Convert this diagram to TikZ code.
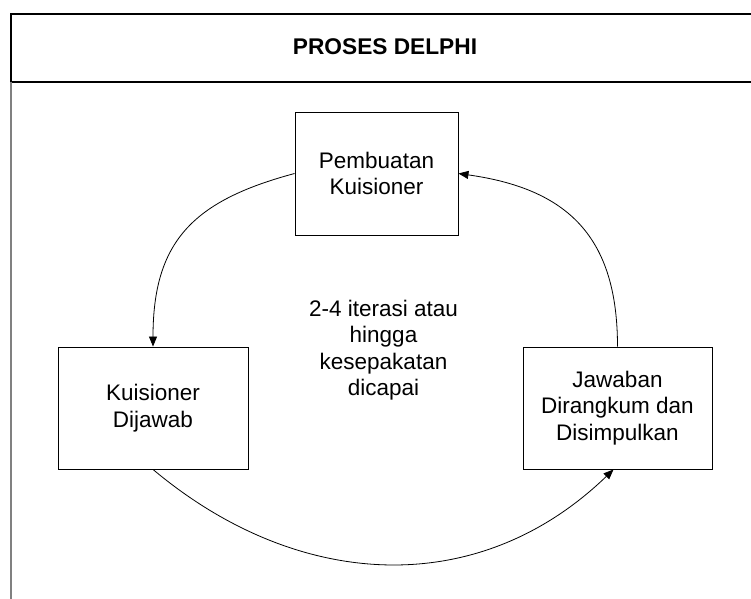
\documentclass[tikz,border=0pt]{standalone}
\usepackage{fontspec}
\setmainfont{Liberation Sans}
\usetikzlibrary{arrows.meta}

\begin{document}
\begin{tikzpicture}[x=1pt,y=1pt,
    box/.style={draw,line width=.9pt,align=center,font=\fontsize{22.5}{26.5}\selectfont},
    flow/.style={line width=.8pt,-{Triangle[length=10pt,width=8pt]}}]
  \useasboundingbox (0,0) rectangle (751,-598);
  \clip (0,0) rectangle (751,-598);
  % frame with header
  \draw[line width=1.3pt] (760,-14) -- (11,-14) -- (11,-82) -- (760,-82);
  \draw[gray,line width=1.3pt] (11,-82) -- (11,-610);
  \node[font=\fontsize{22.7}{26}\selectfont\bfseries] (title) at (385,-47) {PROSES DELPHI};
  % the three steps
  \node[box,minimum width=163,minimum height=123] (pk) at (376.5,-173.5) {Pembuatan\\Kuisioner};
  \node[box,minimum width=190,minimum height=122] (kd) at (153,-408) {Kuisioner\\Dijawab};
  \node[box,minimum width=189,minimum height=122] (jd) at (617.5,-408) {Jawaban\\Dirangkum dan\\Disimpulkan};
  \node[font=\fontsize{22.5}{26.5}\selectfont,align=center] (iter) at (383.5,-350) {2-4 iterasi atau\\hingga\\kesepakatan\\dicapai};
  % cycle
  \draw[flow] (pk.west) to[out=195,in=90,looseness=1.2] (kd.north);
  \draw[flow] (kd.south) to[out=-40,in=-136,looseness=1.05] ([xshift=-4]jd.south);
  \draw[flow] (jd.north) to[out=90,in=-8,looseness=1.2] (pk.east);
\end{tikzpicture}
\end{document}
